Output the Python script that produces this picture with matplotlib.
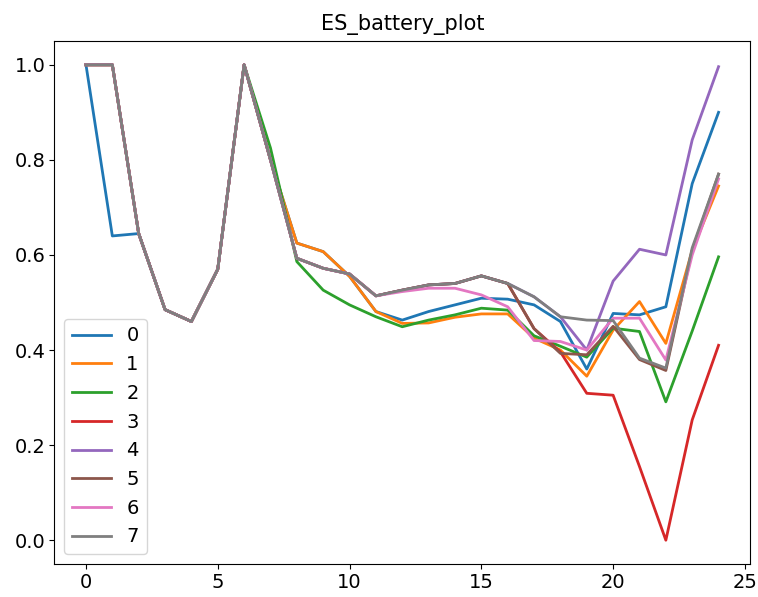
import matplotlib
matplotlib.use("Agg")
import matplotlib.pyplot as plt

steps = list(range(25))

series_0 = [1.0, 0.64, 0.645, 0.485, 0.46, 0.57, 1.0, 0.80, 0.625, 0.607, 0.555, 0.481, 0.463,
            0.481, 0.495, 0.509, 0.507, 0.495, 0.46, 0.36, 0.477, 0.474, 0.491, 0.75, 0.90]
series_1 = [1.0, 1.0, 0.645, 0.485, 0.46, 0.57, 1.0, 0.80, 0.625, 0.607, 0.555, 0.481, 0.456,
            0.457, 0.469, 0.476, 0.476, 0.425, 0.40, 0.345, 0.442, 0.502, 0.414, 0.61, 0.745]
series_2 = [1.0, 1.0, 0.645, 0.485, 0.46, 0.57, 1.0, 0.825, 0.586, 0.526, 0.495, 0.47, 0.449,
            0.463, 0.474, 0.488, 0.484, 0.43, 0.408, 0.385, 0.446, 0.439, 0.291, 0.44, 0.596]
series_3 = [1.0, 1.0, 0.645, 0.485, 0.46, 0.57, 1.0, 0.80, 0.593, 0.572, 0.56, 0.514, 0.526,
            0.537, 0.54, 0.556, 0.54, 0.445, 0.396, 0.309, 0.305, 0.155, 0.0, 0.253, 0.41]
series_4 = [1.0, 1.0, 0.645, 0.485, 0.46, 0.57, 1.0, 0.80, 0.593, 0.572, 0.56, 0.514, 0.526,
            0.537, 0.54, 0.556, 0.54, 0.512, 0.47, 0.40, 0.545, 0.612, 0.60, 0.842, 0.996]
series_5 = [1.0, 1.0, 0.645, 0.485, 0.46, 0.57, 1.0, 0.80, 0.593, 0.572, 0.56, 0.514, 0.526,
            0.537, 0.54, 0.556, 0.54, 0.445, 0.393, 0.39, 0.45, 0.38, 0.357, 0.61, 0.77]
series_6 = [1.0, 1.0, 0.645, 0.485, 0.46, 0.57, 1.0, 0.80, 0.593, 0.572, 0.56, 0.514, 0.523,
            0.530, 0.53, 0.516, 0.491, 0.42, 0.418, 0.40, 0.467, 0.467, 0.379, 0.60, 0.76]
series_7 = [1.0, 1.0, 0.645, 0.485, 0.46, 0.57, 1.0, 0.80, 0.593, 0.572, 0.56, 0.514, 0.526,
            0.537, 0.54, 0.556, 0.54, 0.512, 0.47, 0.463, 0.462, 0.383, 0.362, 0.615, 0.77]

labels = ["0", "1", "2", "3", "4", "5", "6", "7"]
all_series = [series_0, series_1, series_2, series_3, series_4, series_5, series_6, series_7]

fig = plt.figure(figsize=(7.58, 5.97), dpi=100)
ax = fig.add_axes([0.0717, 0.0553, 0.918, 0.876])
for lab, vals in zip(labels, all_series):
    ax.plot(steps, vals, label=lab, linewidth=2.0)
ax.set_title("ES_battery_plot", fontsize=15, pad=8)
ax.tick_params(labelsize=14, pad=3)
ax.legend(loc="lower left", fontsize=14)
fig.savefig("out.png", dpi=100)
